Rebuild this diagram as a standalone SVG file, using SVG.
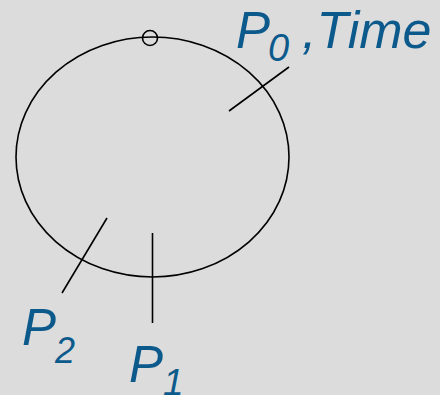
<svg xmlns="http://www.w3.org/2000/svg" width="440" height="395" viewBox="0 0 440 395">
<style>
.lbl{font-family:"Liberation Sans",Arial,sans-serif;font-style:italic;fill:#0c5a8c}
.ln{stroke:#000;stroke-width:1.6;fill:none}
</style>
<rect width="440" height="395" fill="#dcdcdc"/>
<g id="ellipse">
<ellipse class="ln" cx="152.5" cy="157" rx="136.5" ry="120"/>
<circle class="ln" cx="150" cy="38" r="7.5" stroke-width="2"/>
</g>
<g id="connectors">
<line class="ln" x1="229" y1="111" x2="289" y2="67"/>
<line class="ln" x1="107" y1="218" x2="62" y2="293"/>
<line class="ln" x1="152.5" y1="233" x2="152.5" y2="323"/>
</g>
<g id="P0">
<text class="lbl" x="236" y="48" font-size="51">P</text>
<text class="lbl" x="268" y="61" font-size="38">0</text>
<text class="lbl" x="302" y="48" font-size="52">,Time</text>
</g>
<g id="P2">
<text class="lbl" x="22" y="345" font-size="51">P</text>
<text class="lbl" x="55" y="363" font-size="36">2</text>
</g>
<g id="P1">
<text class="lbl" x="129" y="382" font-size="51">P</text>
<text class="lbl" x="163" y="395" font-size="37">1</text>
</g>
</svg>
